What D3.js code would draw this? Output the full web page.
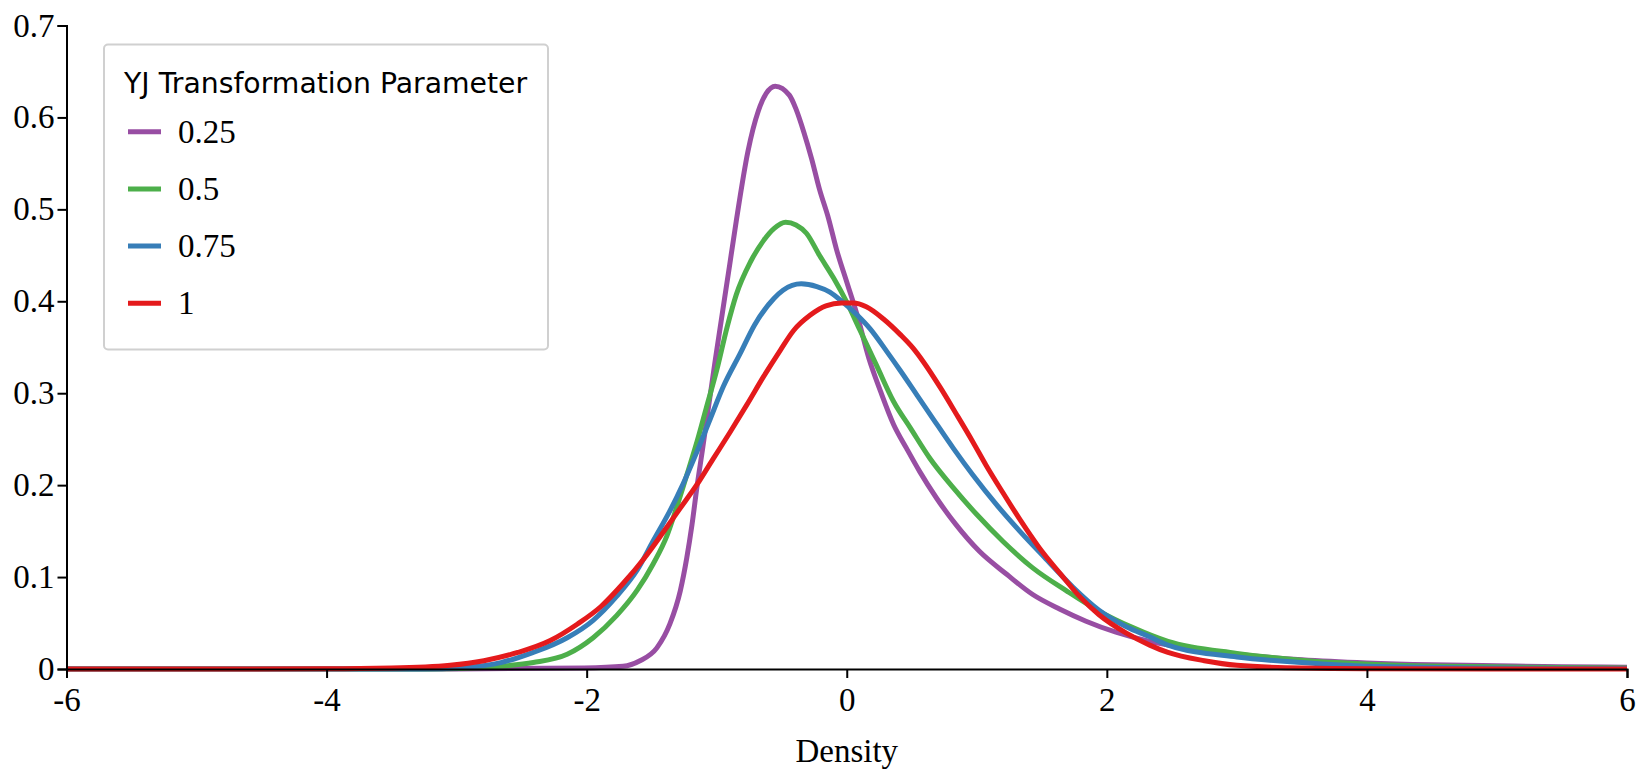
<!DOCTYPE html>
<html>
<head>
<meta charset="utf-8">
<title>YJ Transformation Densities</title>
<script src="https://cdn.jsdelivr.net/npm/d3@7"></script>
<style>
  html, body { margin: 0; padding: 0; background: #fff; }
  #chart { width: 1642px; height: 771px; }
</style>
</head>
<body>
<div id="chart"></div>
<script>
/**
 * Density curves for several Yeo-Johnson transformation parameters
 */

// Legend categories and colours
const lambdas = ['0.25', '0.5', '0.75', '1'];
const lambdaColors = ['#984ea3', '#4daf4a', '#377eb8', '#e41a1c'];

// Axis ticks
const xTicks = [-6, -4, -2, 0, 2, 4, 6];
const yTicks = [0, 0.1, 0.2, 0.3, 0.4, 0.5, 0.6, 0.7];

// lambda = 0.25
const x025 = [-6, -3, -2.02, -1.72, -1.59, -1.46, -1.36, -1.28, -1.23, -1.19, -1.15, -1.11, -1.06, -1.01,
  -0.9, -0.85, -0.76, -0.68, -0.62, -0.55, -0.44, -0.39, -0.33, -0.27, -0.21, -0.14, -0.08, 0, 0.08,
  0.17, 0.26, 0.36, 0.46, 0.56, 0.69, 0.84, 1.02, 1.23, 1.43, 1.64, 1.84, 2.07, 2.33, 2.6, 3, 3.5,
  4, 4.5, 5, 5.5, 6];
const y025 = [0, 0, 0.0012, 0.003, 0.009, 0.023, 0.049, 0.085, 0.121, 0.157, 0.2, 0.238, 0.288, 0.337,
  0.44, 0.487, 0.563, 0.607, 0.626, 0.634, 0.624, 0.609, 0.584, 0.555, 0.522, 0.49, 0.457, 0.421, 0.385,
  0.338, 0.302, 0.266, 0.24, 0.215, 0.186, 0.157, 0.128, 0.103, 0.081, 0.065, 0.052, 0.04, 0.03, 0.023,
  0.016, 0.01, 0.0065, 0.0045, 0.0035, 0.0025, 0.002];

// lambda = 0.5
const x05 = [-6, -3.2, -2.9, -2.66, -2.41, -2.15, -1.95, -1.77, -1.61, -1.49, -1.38, -1.31, -1.23, -1.15,
  -1.08, -1, -0.92, -0.85, -0.74, -0.64, -0.56, -0.47, -0.39, -0.31, -0.21, -0.1, 0, 0.1, 0.23, 0.36,
  0.49, 0.64, 0.82, 1, 1.2, 1.43, 1.69, 1.94, 2.2, 2.47, 3, 3.54, 4.07, 4.6, 5.2, 6];
const y05 = [0, 0, 0.001, 0.003, 0.007, 0.016, 0.034, 0.058, 0.086, 0.114, 0.146, 0.175, 0.211, 0.248,
  0.284, 0.325, 0.372, 0.407, 0.443, 0.466, 0.479, 0.486, 0.483, 0.474, 0.45, 0.425, 0.399, 0.369,
  0.33, 0.291, 0.262, 0.229, 0.197, 0.168, 0.139, 0.11, 0.085, 0.063, 0.045, 0.03, 0.017, 0.009, 0.005,
  0.003, 0.002, 0.001];

// lambda = 0.75
const x075 = [-6, -3.3, -2.92, -2.66, -2.41, -2.15, -1.95, -1.77, -1.61, -1.49, -1.36, -1.26, -1.15,
  -1.05, -0.95, -0.82, -0.71, -0.56, -0.49, -0.35, -0.23, -0.13, -0.03, 0.08, 0.18, 0.31, 0.41, 0.54,
  0.66, 0.82, 0.97, 1.15, 1.33, 1.53, 1.74, 1.94, 2.15, 2.33, 2.47, 3, 3.5, 4, 5, 6];
const y075 = [0, 0, 0.002, 0.007, 0.018, 0.034, 0.053, 0.079, 0.108, 0.139, 0.172, 0.201, 0.237, 0.272,
  0.307, 0.343, 0.374, 0.403, 0.412, 0.419, 0.416, 0.41, 0.399, 0.385, 0.37, 0.345, 0.325, 0.298,
  0.273, 0.24, 0.211, 0.179, 0.15, 0.12, 0.089, 0.064, 0.046, 0.035, 0.026, 0.013, 0.007, 0.003,
  0.001, 0.0005];

// lambda = 1
const x1 = [-6, -4, -3.5, -3.05, -2.79, -2.53, -2.28, -2.07, -1.89, -1.72, -1.56, -1.41, -1.28, -1.15,
  -1.03, -0.9, -0.77, -0.64, -0.51, -0.41, -0.28, -0.16, -0.04, 0.05, 0.15, 0.28, 0.41, 0.51, 0.59,
  0.72, 0.84, 0.97, 1.07, 1.2, 1.33, 1.48, 1.64, 1.79, 1.94, 2.15, 2.33, 2.47, 2.75, 3, 3.5, 4, 6];
const y1 = [0, 0.0002, 0.001, 0.004, 0.009, 0.018, 0.031, 0.049, 0.068, 0.093, 0.12, 0.149, 0.175, 0.201,
  0.228, 0.257, 0.287, 0.318, 0.347, 0.368, 0.385, 0.395, 0.398, 0.398, 0.394, 0.381, 0.364, 0.349,
  0.334, 0.306, 0.278, 0.247, 0.222, 0.192, 0.163, 0.132, 0.104, 0.079, 0.059, 0.039, 0.026, 0.018,
  0.009, 0.004, 0.001, 0.0003, 0];

const seriesX = [x025, x05, x075, x1];
const seriesY = [y025, y05, y075, y1];

function createDensityChart(containerId) {
  const width = 1642;
  const height = 771;

  const svg = d3.select(`#${containerId}`)
    .append('svg')
    .attr('width', width)
    .attr('height', height);

  // Scales (pixel ranges taken from the reference layout)
  const x = d3.scaleLinear().domain([-6, 6]).range([66.5, 1627]);
  const y = d3.scaleLinear().domain([0, 0.7]).range([669, 25.5]);

  const serif = '"Liberation Serif", "Times New Roman", serif';

  // Density lines
  const line = d3.line()
    .x(d => x(d[0]))
    .y(d => y(d[1]))
    .curve(d3.curveMonotoneX);

  const series = lambdas.map((name, i) => ({
    name,
    color: lambdaColors[i],
    points: seriesX[i].map((v, j) => [v, seriesY[i][j]])
  }));

  svg.append('g')
    .attr('class', 'lines')
    .selectAll('path')
    .data(series)
    .join('path')
    .attr('d', d => line(d.points))
    .attr('fill', 'none')
    .attr('stroke', d => d.color)
    .attr('stroke-width', 5)
    .attr('stroke-linejoin', 'round');

  // X axis
  const xAxis = svg.append('g')
    .attr('transform', `translate(0,${y(0)})`)
    .call(d3.axisBottom(x)
      .tickValues(xTicks)
      .tickFormat(d => String(d))
      .tickSize(9)
      .tickPadding(10));

  // Y axis
  const yAxis = svg.append('g')
    .attr('transform', `translate(${x(-6)},0)`)
    .call(d3.axisLeft(y)
      .tickValues(yTicks)
      .tickFormat(d => String(d))
      .tickSize(9)
      .tickPadding(3));

  [xAxis, yAxis].forEach(ax => {
    ax.select('.domain').attr('stroke', '#000').attr('stroke-width', 2);
    ax.selectAll('.tick line').attr('stroke', '#000').attr('stroke-width', 2);
    ax.selectAll('.tick text')
      .attr('fill', '#000')
      .style('font-family', serif)
      .style('font-size', '33px');
  });

  // Axis title
  svg.append('text')
    .attr('x', x(0))
    .attr('y', 762)
    .attr('text-anchor', 'middle')
    .style('font-family', serif)
    .style('font-size', '33px')
    .attr('fill', '#000')
    .text('Density');

  // Legend
  const legend = svg.append('g').attr('class', 'legend');

  legend.append('rect')
    .attr('x', 104)
    .attr('y', 44.5)
    .attr('width', 444)
    .attr('height', 305)
    .attr('rx', 4)
    .attr('fill', '#fff')
    .attr('stroke', '#d0d0d0')
    .attr('stroke-width', 2);

  legend.append('text')
    .attr('x', 124)
    .attr('y', 93)
    .style('font-family', '"DejaVu Sans", sans-serif')
    .style('font-size', '28.3px')
    .attr('fill', '#000')
    .text('YJ Transformation Parameter');

  const items = legend.selectAll('g.item')
    .data(series)
    .join('g')
    .attr('class', 'item')
    .attr('transform', (d, i) => `translate(0,${131.7 + i * 57.2})`);

  items.append('line')
    .attr('x1', 128)
    .attr('x2', 161)
    .attr('stroke', d => d.color)
    .attr('stroke-width', 5);

  items.append('text')
    .attr('x', 178)
    .attr('y', 11)
    .style('font-family', serif)
    .style('font-size', '33px')
    .attr('fill', '#000')
    .text(d => d.name);

  return svg;
}

createDensityChart('chart');
</script>
</body>
</html>
